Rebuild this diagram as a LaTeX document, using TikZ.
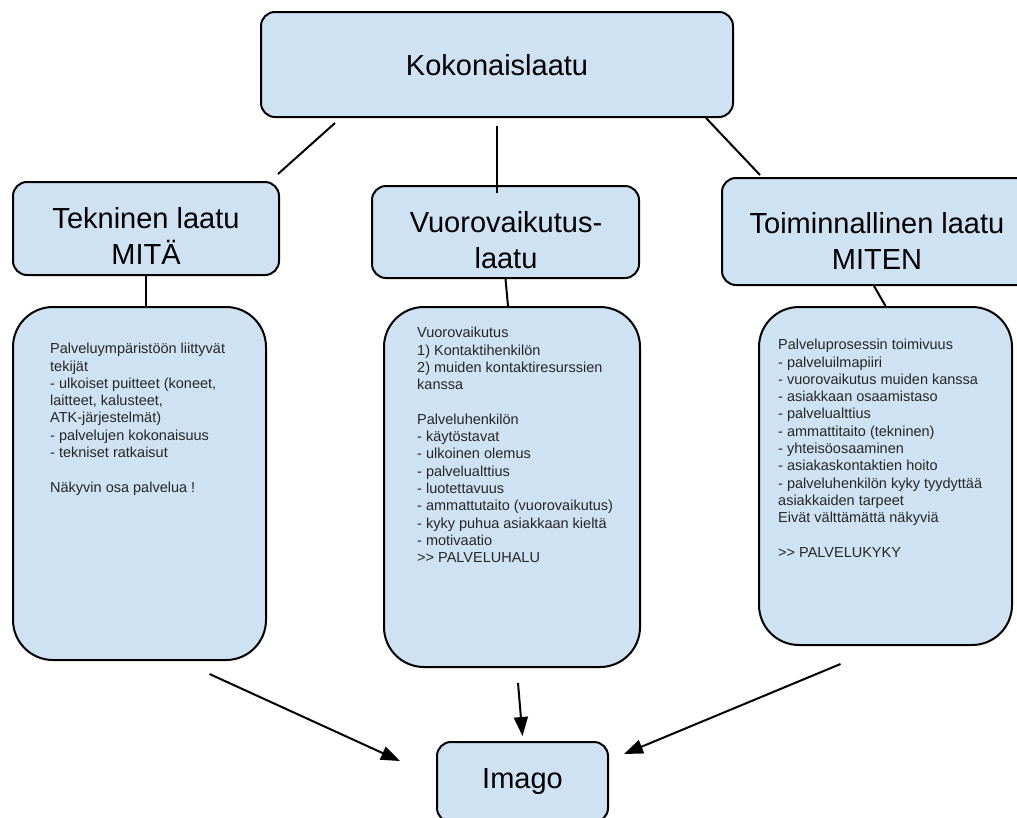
\documentclass[tikz,border=0pt]{standalone}
\usepackage{fontspec}
\setmainfont{Liberation Sans}
\usepackage{tikz}
\usetikzlibrary{arrows.meta}

\definecolor{boxblue}{HTML}{CFE2F3}

\begin{document}
\begin{tikzpicture}[x=1pt,y=-1pt,
	head/.style={draw, line width=2pt, fill=boxblue, rounded corners=14pt, inner sep=0pt},
	headtxt/.style={align=center, inner sep=0pt, font=\fontsize{29}{36}\selectfont},
	detail/.style={draw, line width=2pt, fill=boxblue, rounded corners=40pt, inner sep=0pt},
	list/.style={align=left, anchor=north west, inner sep=0pt, text=black!85, font=\fontsize{14.5}{17.3}\selectfont},
	link/.style={line width=2pt},
	arr/.style={line width=2pt, -{Triangle[length=19pt, width=14pt]}}]
		
		\useasboundingbox (0,0) rectangle (1017,817);
		
		% Set the top box
		\node[head, minimum width=472pt, minimum height=105pt] (top) at (497,64.5) {};
		\node[headtxt] (top-txt) at (497,65) {Kokonaislaatu};
		
		% Set the three quality boxes
		\node[head, minimum width=266pt, minimum height=93pt] (tek) at (146,228.5) {};
		\node[head, minimum width=267pt, minimum height=92pt] (vuo) at (505.5,232) {};
		\node[head, minimum width=310pt, minimum height=107pt] (toi) at (877,231.5) {};
		\node[headtxt] (tek-txt) at (146,236) {Tekninen laatu\\MITÄ};
		\node[headtxt] (vuo-txt) at (506,240) {Vuorovaikutus-\\laatu};
		\node[headtxt] (toi-txt) at (877,241) {Toiminnallinen laatu\\MITEN};
		
		% Set the detail boxes
		\node[detail, minimum width=253pt, minimum height=353pt] (d1) at (139.5,483.5) {};
		\node[detail, minimum width=256pt, minimum height=360pt] (d2) at (512,487) {};
		\node[detail, minimum width=253pt, minimum height=338pt] (d3) at (885.5,476) {};
		
		\node[list] (d1-txt) at (50,343) {Palveluympäristöön liittyvät\\tekijät\\- ulkoiset puitteet (koneet,\\laitteet, kalusteet,\\ATK-järjestelmät)\\- palvelujen kokonaisuus\\- tekniset ratkaisut\\[17.3pt]Näkyvin osa palvelua !};
		\node[list] (d2-txt) at (417,327) {Vuorovaikutus\\1) Kontaktihenkilön\\2) muiden kontaktiresurssien\\kanssa\\[17.3pt]Palveluhenkilön\\- käytöstavat\\- ulkoinen olemus\\- palvelualttius\\- luotettavuus\\- ammattutaito (vuorovaikutus)\\- kyky puhua asiakkaan kieltä\\- motivaatio\\>{}> PALVELUHALU};
		\node[list] (d3-txt) at (778,339) {Palveluprosessin toimivuus\\- palveluilmapiiri\\- vuorovaikutus muiden kanssa\\- asiakkaan osaamistaso\\- palvelualttius\\- ammattitaito (tekninen)\\- yhteisöosaaminen\\- asiakaskontaktien hoito\\- palveluhenkilön kyky tyydyttää\\asiakkaiden tarpeet\\Eivät välttämättä näkyviä\\[17.3pt]>{}> PALVELUKYKY};
		
		% Set the bottom box
		\node[head, minimum width=171pt, minimum height=80pt] (imago) at (522.5,782) {};
		\node[headtxt] (imago-txt) at (522.5,782) {Imago};
		
		% Connect the boxes
		\draw[link] ([shift={(-162pt,-5pt)}]top.south) -- ([shift={(-2pt,7pt)}]tek.north east);
		\draw[link] ([yshift=-8pt]top.south) -- ([yshift=-8pt]top.south |- vuo.north);
		\draw[link] ([xshift=-28pt]top.south east) -- ([shift={(39pt,2pt)}]toi.north west);
		
		\draw[link] (tek.south) -- (tek.south |- d1.north);
		\draw[link] (vuo.south) -- ([xshift=-4pt]d2.north);
		\draw[link] ([xshift=-3pt]toi.south) -- (d3.north);
		
		\draw[arr] ([shift={(70pt,-13pt)}]d1.south) -- ([shift={(-36pt,-20pt)}]imago.north west);
		\draw[arr] ([shift={(6pt,-15pt)}]d2.south) -- ([yshift=5pt]imago.north);
		\draw[arr] ([shift={(-45pt,-18pt)}]d3.south) -- ([shift={(15pt,-13pt)}]imago.north east);
		
	\end{tikzpicture}
\end{document}
